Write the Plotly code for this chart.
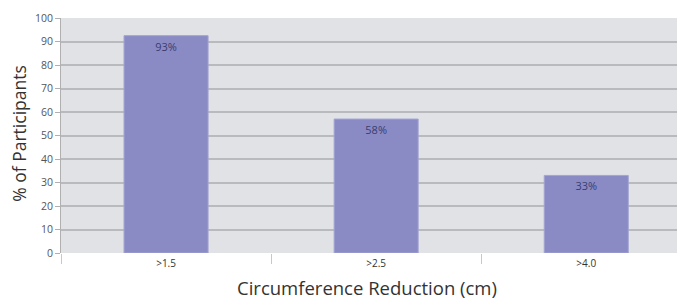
import plotly.graph_objects as go

categories = [">1.5", ">2.5", ">4.0"]
values = [92.5, 57, 33]
labels = ["93%", "58%", "33%"]
y_ticks = list(range(0, 101, 10))

xpos = list(range(len(categories)))

# the page body has an 8px default margin, so the figure sits 8px in
OFF = 8
W, H = 685, 300
L, R, T, B = 61 - OFF, OFF, 18 - OFF, H - (253.5 - OFF)

fig = go.Figure()
fig.add_trace(go.Bar(
    x=xpos, y=values, width=0.4,
    marker=dict(color="#8a8bc4", line=dict(color="#a3a4d2", width=1)),
    text=labels, textposition="inside", insidetextanchor="end",
    textfont=dict(color="#3b3d6e", size=11, family="Open Sans"),
    textangle=0,
))

fig.update_layout(
    width=W, height=H,
    margin=dict(l=L, r=R, t=T, b=B, autoexpand=False),
    paper_bgcolor="white", plot_bgcolor="#e1e2e6",
    font=dict(family="Open Sans", color="#444"),
    showlegend=False,
    xaxis=dict(
        range=[-0.5, 2.47], automargin=False,
        tickvals=xpos, ticktext=categories,
        ticks="", showgrid=False, zeroline=False,
        tickfont=dict(size=10, color="#333"),
        ticklabelstandoff=3,
        minor=dict(tick0=0.5, dtick=1, ticks="outside", ticklen=10,
                   tickcolor="#c8c8c8", tickwidth=1, showgrid=False),
        showline=False,
    ),
    yaxis=dict(
        range=[0, 100], tickvals=y_ticks, automargin=False,
        ticks="outside", ticklen=5, tickcolor="#b0b0b0",
        tickfont=dict(size=10.5, color="#555"),
        showgrid=True, gridcolor="#b9babd", gridwidth=1.5,
        zeroline=False,
        showline=True, linecolor="#b0b0b0", linewidth=1,
    ),
)

pw, ph = W - L - R, H - T - B


def px2paper(vx, vy):
    fx, fy = vx - OFF, vy - OFF
    return (fx - L) / pw, (H - B - fy) / ph


ax, ay = px2paper(367, 288)
bx, by = px2paper(19, 134)
fig.add_annotation(text="Circumference Reduction (cm)", x=ax, y=ay,
                   xref="paper", yref="paper", showarrow=False,
                   xanchor="center", yanchor="middle",
                   font=dict(size=18.5, color="#333"))
fig.add_annotation(text="% of Participants", x=bx, y=by, textangle=-90,
                   xref="paper", yref="paper", showarrow=False,
                   xanchor="center", yanchor="middle",
                   font=dict(size=17.5, color="#333"))

fig.write_html("out.html")
